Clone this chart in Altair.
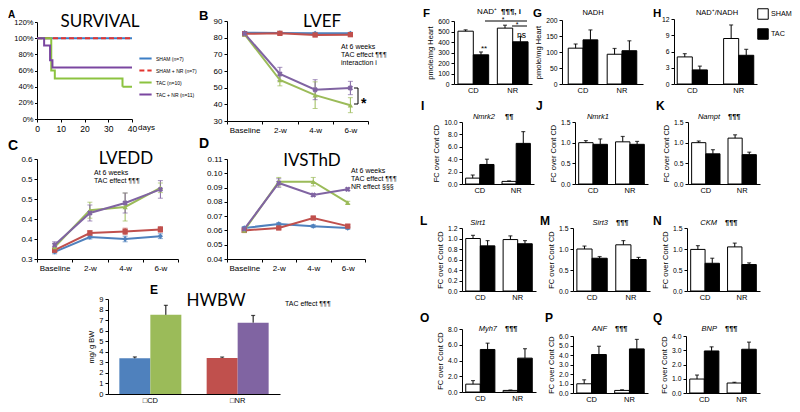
import altair as alt
import pandas as pd

W, H = 784, 396
OX, OY = 8, 8


def px(v):
    return v - OX


def py(v):
    return v - OY


SANS = "Liberation Sans"
HEAD = "Lato"

# ---------------- data ----------------
# A  survival
surv_series = ["SHAM (n=7)", "SHAM + NR  (n=7)", "TAC (n=10)", "TAC + NR (n=11)"]
surv_sham_days = [0, 40]
surv_sham_pct = [100, 100]
surv_shamnr_days = [0, 40]
surv_shamnr_pct = [100, 100]
surv_tac_days = [0, 6, 7.5, 36, 40]
surv_tac_pct = [100, 60, 50, 40, 40]
surv_tacnr_days = [0, 3, 5.5, 6.5, 40]
surv_tacnr_pct = [100, 90.9, 72.7, 63.6, 63.6]

# B, C, D echo time courses (SHAM, SHAM+NR, TAC, TAC+NR)
times = ["Baseline", "2-w", "4-w", "6-w"]
groups = ["SHAM", "SHAM + NR", "TAC", "TAC + NR"]
lvef_sham = [83.0, 82.8, 82.6, 82.6]
lvef_shamnr = [82.3, 82.6, 81.6, 81.8]
lvef_tac = [82.0, 54.6, 45.5, 39.5]
lvef_tacnr = [82.4, 58.2, 48.8, 49.8]
lvef_err = [[0.6, 0.6, 0.6, 0.6], [0.8, 0.8, 0.8, 0.8], [1.0, 3.5, 8.0, 4.5], [1.0, 4.0, 6.0, 4.0]]

lvedd_sham = [0.318, 0.355, 0.350, 0.357]
lvedd_shamnr = [0.322, 0.365, 0.369, 0.374]
lvedd_tac = [0.330, 0.422, 0.430, 0.478]
lvedd_tacnr = [0.335, 0.415, 0.440, 0.474]
lvedd_err = [[0.005, 0.005, 0.007, 0.006], [0.005, 0.006, 0.008, 0.007],
             [0.008, 0.020, 0.035, 0.012], [0.008, 0.020, 0.025, 0.022]]

ivs_sham = [0.0617, 0.0645, 0.0630, 0.0617]
ivs_shamnr = [0.0600, 0.0617, 0.0687, 0.0630]
ivs_tac = [0.0600, 0.0941, 0.0941, 0.0794]
ivs_tacnr = [0.0610, 0.0932, 0.0848, 0.0888]
ivs_err = [[0.001, 0.001, 0.001, 0.001], [0.001, 0.001, 0.001, 0.001],
           [0.001, 0.003, 0.003, 0.001], [0.001, 0.003, 0.001, 0.001]]

# E  HWBW
hw_groups = ["□CD", "□NR"]
hw_sham = [3.38, 3.42]
hw_sham_err = [0.13, 0.08]
hw_tac = [7.50, 6.76]
hw_tac_err = [0.90, 0.68]

# F-Q  (values for CD, NR)
nad_sham, nad_sham_err, nad_tac, nad_tac_err = [503, 532], [13, 28], [278, 402], [27, 50]
nadh_sham, nadh_sham_err, nadh_tac, nadh_tac_err = [112, 93], [13, 18], [138, 104], [31, 31]
ratio_sham, ratio_sham_err, ratio_tac, ratio_tac_err = [5.0, 8.4], [0.6, 2.5], [2.6, 5.3], [0.7, 1.1]
nmrk2_sham, nmrk2_sham_err, nmrk2_tac, nmrk2_tac_err = [0.95, 0.42], [0.5, 0.08], [3.15, 6.55], [0.85, 1.9]
nmrk1_sham, nmrk1_sham_err, nmrk1_tac, nmrk1_tac_err = [1.0, 1.02], [0.05, 0.13], [0.96, 0.96], [0.13, 0.07]
nampt_sham, nampt_sham_err, nampt_tac, nampt_tac_err = [1.0, 1.11], [0.04, 0.08], [0.73, 0.71], [0.1, 0.06]
sirt1_sham, sirt1_sham_err, sirt1_tac, sirt1_tac_err = [1.0, 0.98], [0.06, 0.07], [0.86, 0.9], [0.1, 0.06]
sirt3_sham, sirt3_sham_err, sirt3_tac, sirt3_tac_err = [1.0, 1.1], [0.07, 0.1], [0.78, 0.75], [0.04, 0.05]
ckm_sham, ckm_sham_err, ckm_tac, ckm_tac_err = [0.99, 1.05], [0.09, 0.09], [0.66, 0.63], [0.12, 0.04]
myh7_sham, myh7_sham_err, myh7_tac, myh7_tac_err = [1.0, 0.2], [0.45, 0.05], [5.4, 4.3], [0.8, 1.2]
anf_sham, anf_sham_err, anf_tac, anf_tac_err = [0.97, 0.27], [0.42, 0.07], [4.05, 4.64], [0.87, 1.0]
bnp_sham, bnp_sham_err, bnp_tac, bnp_tac_err = [0.98, 0.7], [0.28, 0.05], [2.95, 3.07], [0.29, 0.5]

# ---------------- styles ----------------
S_COLORS = ["#3c7fc6", "#e3342f", "#8cc340", "#7a46a0"]
L_COLORS = ["#4f81bd", "#c0504d", "#9bbb59", "#8064a2"]
HW_COLORS = ["#4f81bd", "#9bbb59", "#c0504d", "#8064a2"]


def yax(xl, values, fmt=None, expr=None, title=None, size=8, tsize=7.5, tick=3, pad=2):
    kw = dict(orient="left", offset=-px(xl), values=values, grid=False, labelFontSize=size,
              tickSize=tick, labelPadding=pad, titleFontSize=tsize, titlePadding=3, title=title)
    if fmt:
        kw["format"] = fmt
    if expr:
        kw["labelExpr"] = expr
    return alt.Axis(**kw)


def xax(yb, size=8, ticks=False, band=False, values=None):
    kw = dict(orient="bottom", offset=py(yb) - H, title=None, grid=False, labelFontSize=size,
              labelAngle=0, ticks=ticks, labelPadding=2, tickSize=3)
    if band:
        kw["tickBand"] = "extent"
    if values is not None:
        kw["values"] = values
    return alt.Axis(**kw)


def T(s, x, y, size=8, weight="normal", font=SANS, align="left", style="normal"):
    return alt.Chart(pd.DataFrame({"t": [s]})).mark_text(
        align=align, baseline="alphabetic", fontSize=size, fontWeight=weight,
        font=font, fontStyle=style, color="black"
    ).encode(x=alt.value(px(x)), y=alt.value(py(y)), text="t:N")


def R(x1, y1, x2, y2, width=1):
    return alt.Chart(pd.DataFrame({"a": [0]})).mark_rule(color="black", strokeWidth=width).encode(
        x=alt.value(px(x1)), x2=alt.value(px(x2)), y=alt.value(py(y1)), y2=alt.value(py(y2)))


def gene_title(gene, marks, xr, y, gap=8):
    return [T(gene, xr, y, 7.5, style="italic", align="right"), T(marks, xr + gap, y, 7.5, weight="bold")]


# ---------------- panels ----------------
def survival_panel():
    rows = []
    for s, d, p in zip(surv_series,
                       [surv_sham_days, surv_shamnr_days, surv_tac_days, surv_tacnr_days],
                       [surv_sham_pct, surv_shamnr_pct, surv_tac_pct, surv_tacnr_pct]):
        for dd, pp in zip(d, p):
            rows.append({"s": s, "day": dd, "pct": pp})
    df = pd.DataFrame(rows)
    xs = alt.Scale(domain=[0, 40], range=[px(37), px(132)], nice=False)
    ys = alt.Scale(domain=[0, 120], range=[py(119), py(22)], nice=False)
    xA = xax(119, size=8.5, ticks=True, values=[0, 10, 20, 30, 40])
    yA = yax(37, [0, 20, 40, 60, 80, 100, 120], expr="datum.value + '%'", size=7.5, tick=2.5, pad=1.5)
    leg = alt.Legend(title=None, orient="none", legendX=px(138), legendY=py(51), symbolType="stroke",
                     symbolSize=150, symbolStrokeWidth=2, labelFontSize=5, labelFont=SANS,
                     rowPadding=0, labelOffset=3)
    col = alt.Color("s:N", scale=alt.Scale(domain=surv_series, range=S_COLORS), legend=leg)
    dash = alt.StrokeDash("s:N", scale=alt.Scale(domain=surv_series,
                                                 range=[[1, 0], [5, 3], [1, 0], [1, 0]]), legend=leg)
    base = alt.Chart(df)
    enc = dict(x=alt.X("day:Q", scale=xs, axis=xA), y=alt.Y("pct:Q", scale=ys, axis=yA),
               color=col, strokeDash=dash, order="day:Q")
    l1 = base.transform_filter(alt.datum.s == surv_series[0]).mark_line(
        interpolate="step-after", strokeWidth=2).encode(**enc)
    l2 = base.transform_filter(alt.datum.s != surv_series[0]).mark_line(
        interpolate="step-after", strokeWidth=2).encode(**enc)
    return alt.layer(l1, l2)


def line_panel(means, errs, x0, x1, y0, y1, dom, yvals, fmt=None, expr=None):
    rows = []
    for g, mv, ev in zip(groups, means, errs):
        for i, (t, m, e) in enumerate(zip(times, mv, ev)):
            rows.append({"time": t, "idx": i, "grp": g, "m": m, "lo": m - e, "hi": m + e})
    df = pd.DataFrame(rows)
    xs = alt.Scale(type="band", domain=times, range=[px(x0), px(x1)], paddingInner=0, paddingOuter=0)
    ys = alt.Scale(domain=dom, range=[py(y0), py(y1)], nice=False, zero=False)
    xA = xax(y0, ticks=True, band=True)
    yA = yax(x0, yvals, fmt=fmt, expr=expr)
    col = alt.Color("grp:N", scale=alt.Scale(domain=groups, range=L_COLORS), legend=None)
    base = alt.Chart(df)

    def X():
        return alt.X("time:N", scale=xs, axis=xA)

    def Y(f):
        return alt.Y(f, scale=ys, axis=yA)

    bar = base.mark_rule(strokeWidth=1).encode(x=X(), y=Y("lo:Q"), y2="hi:Q", color=col)
    cap_lo = base.mark_tick(thickness=1, size=5).encode(x=X(), y=Y("lo:Q"), color=col)
    cap_hi = base.mark_tick(thickness=1, size=5).encode(x=X(), y=Y("hi:Q"), color=col)
    line = base.mark_line(strokeWidth=2).encode(x=X(), y=Y("m:Q"), color=col, order="idx:Q")
    pts = base.transform_filter(alt.datum.grp != "TAC + NR").mark_point(
        filled=True, size=28, opacity=1).encode(
        x=X(), y=Y("m:Q"), color=col,
        shape=alt.Shape("grp:N", scale=alt.Scale(domain=groups[:3],
                                                 range=["diamond", "square", "triangle-up"]), legend=None))
    crs = base.transform_filter(alt.datum.grp == "TAC + NR").mark_point(
        shape="cross", angle=45, filled=True, size=30, opacity=1).encode(x=X(), y=Y("m:Q"), color=col)
    return alt.layer(bar, cap_lo, cap_hi, line, pts, crs)


def grouped_bars(df, xs, ys, xA, yA, fill, stroke):
    xo = alt.XOffset("cond:N", scale=alt.Scale(domain=["SHAM", "TAC"], paddingInner=0, paddingOuter=0))
    base = alt.Chart(df)
    if stroke:
        bar_mark = base.mark_bar(stroke="black", strokeWidth=1)
    else:
        bar_mark = base.mark_bar()
    bars = bar_mark.encode(
        x=alt.X("diet:N", scale=xs, axis=xA), xOffset=xo,
        y=alt.Y("value:Q", scale=ys, axis=yA), fill=fill)
    stem = base.mark_rule(color="black", strokeWidth=1).encode(
        x=alt.X("diet:N", scale=xs, axis=xA), xOffset=xo,
        y=alt.Y("value:Q", scale=ys, axis=yA), y2="hi:Q")
    cap = base.mark_tick(color="black", thickness=1.2, size=4).encode(
        x=alt.X("diet:N", scale=xs, axis=xA), xOffset=xo, y=alt.Y("hi:Q", scale=ys, axis=yA))
    return alt.layer(bars, stem, cap)


def hwbw_panel():
    df = pd.DataFrame({
        "diet": [hw_groups[0], hw_groups[0], hw_groups[1], hw_groups[1]],
        "cond": ["SHAM", "TAC", "SHAM", "TAC"],
        "key": ["a", "b", "c", "d"],
        "value": [hw_sham[0], hw_tac[0], hw_sham[1], hw_tac[1]],
        "err": [hw_sham_err[0], hw_tac_err[0], hw_sham_err[1], hw_tac_err[1]],
    })
    df["hi"] = df["value"] + df["err"]
    y0, y1 = 394, 299
    xs = alt.Scale(type="band", domain=hw_groups, range=[px(108), px(280)], paddingInner=0.29, paddingOuter=0.13)
    ys = alt.Scale(domain=[0, 9], range=[py(y0), py(y1)], nice=False)
    xA = xax(y0, size=7.5)
    yA = yax(108, list(range(10)), fmt="d", title="mg/ g BW", size=7.5)
    fill = alt.Fill("key:N", scale=alt.Scale(domain=["a", "b", "c", "d"], range=HW_COLORS), legend=None)
    return grouped_bars(df, xs, ys, xA, yA, fill, stroke=False)


def bar_panel(sham, sham_err, tac, tac_err, x0, x1, y0, y1, ymax, yvals, fmt, ytitle=None,
              legend=None, pi=0.22, po=0.1, ysize=6.8):
    df = pd.DataFrame({
        "diet": ["CD", "CD", "NR", "NR"],
        "cond": ["SHAM", "TAC", "SHAM", "TAC"],
        "value": [sham[0], tac[0], sham[1], tac[1]],
        "err": [sham_err[0], tac_err[0], sham_err[1], tac_err[1]],
    })
    df["hi"] = df["value"] + df["err"]
    xs = alt.Scale(type="band", domain=["CD", "NR"], range=[px(x0), px(x1)], paddingInner=pi, paddingOuter=po)
    ys = alt.Scale(domain=[0, ymax], range=[py(y0), py(y1)], nice=False)
    xA = xax(y0, size=7.5)
    yA = yax(x0, yvals, fmt=fmt, title=ytitle, size=ysize)
    fill = alt.Fill("cond:N", scale=alt.Scale(domain=["SHAM", "TAC"], range=["white", "black"]), legend=legend)
    return grouped_bars(df, xs, ys, xA, yA, fill, stroke=True)


FC = "FC over Cont CD"
PM = "pmole/mg Heart"
legend_sham_tac = alt.Legend(title=None, orient="none", legendX=px(757), legendY=py(8), symbolType="square",
                             symbolSize=110, symbolStrokeColor="black", symbolStrokeWidth=1,
                             labelFontSize=7.2, labelFont=SANS, rowPadding=4, labelOffset=2)

panels = [
    survival_panel(),
    line_panel([lvef_sham, lvef_shamnr, lvef_tac, lvef_tacnr], lvef_err, 227, 368, 121, 21, [30, 90],
               [30, 40, 50, 60, 70, 80, 90], fmt="d"),
    line_panel([lvedd_sham, lvedd_shamnr, lvedd_tac, lvedd_tacnr], lvedd_err, 37, 178, 259, 159, [0.3, 0.55],
               [0.3, 0.35, 0.4, 0.45, 0.5, 0.55], expr="format(datum.value + 0.001, '.1f')"),
    line_panel([ivs_sham, ivs_shamnr, ivs_tac, ivs_tacnr], ivs_err, 227, 365, 259, 159, [0.04, 0.11],
               [0.04, 0.05, 0.06, 0.07, 0.08, 0.09, 0.10, 0.11], fmt=".2f"),
    hwbw_panel(),
    bar_panel(nad_sham, nad_sham_err, nad_tac, nad_tac_err, 454, 532, 84, 21, 600,
              [0, 100, 200, 300, 400, 500, 600], "d", PM, legend=legend_sham_tac),
    bar_panel(nadh_sham, nadh_sham_err, nadh_tac, nadh_tac_err, 562, 643, 84, 20, 200,
              [0, 50, 100, 150, 200], "d", PM, pi=0.24, po=0.16),
    bar_panel(ratio_sham, ratio_sham_err, ratio_tac, ratio_tac_err, 674, 757, 84, 19, 12,
              [0, 3, 6, 9, 12], "d", None, pi=0.35, po=0.07),
    bar_panel(nmrk2_sham, nmrk2_sham_err, nmrk2_tac, nmrk2_tac_err, 462, 534, 184, 122, 10,
              [0, 2, 4, 6, 8, 10], ".1f", FC),
    bar_panel(nmrk1_sham, nmrk1_sham_err, nmrk1_tac, nmrk1_tac_err, 575, 648, 184, 122, 1.5,
              [0, 0.5, 1.0, 1.5], ".1f", FC),
    bar_panel(nampt_sham, nampt_sham_err, nampt_tac, nampt_tac_err, 688, 760, 184, 122, 1.5,
              [0, 0.5, 1.0, 1.5], ".1f", FC),
    bar_panel(sirt1_sham, sirt1_sham_err, sirt1_tac, sirt1_tac_err, 462, 536, 291, 228, 1.2,
              [0, 0.2, 0.4, 0.6, 0.8, 1.0, 1.2], ".1f", FC),
    bar_panel(sirt3_sham, sirt3_sham_err, sirt3_tac, sirt3_tac_err, 573, 650, 291, 228, 1.5,
              [0, 0.5, 1.0, 1.5], ".1f", FC),
    bar_panel(ckm_sham, ckm_sham_err, ckm_tac, ckm_tac_err, 687, 760, 291, 228, 1.5,
              [0, 0.5, 1.0, 1.5], ".1f", FC),
    bar_panel(myh7_sham, myh7_sham_err, myh7_tac, myh7_tac_err, 462, 536, 392, 329, 8,
              [0, 2, 4, 6, 8], ".1f", FC),
    bar_panel(anf_sham, anf_sham_err, anf_tac, anf_tac_err, 573, 648, 393, 336, 6,
              [0, 1, 2, 3, 4, 5, 6], ".1f", FC),
    bar_panel(bnp_sham, bnp_sham_err, bnp_tac, bnp_tac_err, 686, 760, 393, 336, 4,
              [0, 1, 2, 3, 4], ".1f", FC),
]

texts = [
    T("A", 8, 17.5, 10, "bold"),
    T("SURVIVAL", 100, 27, 17, font=HEAD, align="center"),
    T("days", 138, 130, 8),
    T("B", 199, 20, 13, "bold"),
    T("LVEF", 322, 27, 17, font=HEAD, align="center"),
    T("At 6 weeks", 341, 49, 7), T("TAC effect ¶¶¶", 341, 57, 7), T("interaction  i", 341, 65, 7),
    R(358, 88, 358, 104), R(354, 88, 358, 88), R(354, 104, 358, 104),
    T("*", 361, 108, 14, "bold"),
    T("C", 8, 150, 14, "bold"),
    T("LVEDD", 126, 164, 17, font=HEAD, align="center"),
    T("At 6 weeks", 94, 175, 7), T("TAC effect ¶¶¶", 94, 183, 7),
    T("D", 199, 148, 14, "bold"),
    T("IVSThD", 312, 166, 17, font=HEAD, align="center"),
    T("At 6 weeks", 351, 173, 7), T("TAC effect ¶¶¶", 351, 181, 7), T("NR effect §§§", 351, 189, 7),
    T("E", 150, 294, 12, "bold"),
    T("HWBW", 216, 306, 17, font=HEAD, align="center"),
    T("TAC effect ¶¶¶", 285, 306, 7),
    # right block
    T("F", 423, 17, 11.5, "bold"),
    T("NAD⁺", 497, 14, 8, align="right"), T("¶¶¶, i", 501, 14, 8, "bold"),
    R(485, 21, 527, 21), T("*", 503, 22, 7, align="center"),
    R(512, 26, 527, 26), T("*", 517, 27, 7, align="center"),
    T("**", 484, 51, 8, align="center"), T("ns", 517, 38, 8.5),
    T("G", 533, 17, 11.5, "bold"), T("NADH", 593, 15, 7.5, align="center"),
    T("H", 653, 16.5, 11.5, "bold"), T("NAD⁺/NADH", 717, 15, 7.5, align="center"),
    T("I", 421, 110, 12, "bold"), T("J", 536, 110, 12, "bold"), T("K", 656, 110, 12, "bold"),
    T("L", 420, 225, 12, "bold"), T("M", 540, 225, 12, "bold"), T("N", 653, 225, 12, "bold"),
    T("O", 420, 322, 12, "bold"), T("P", 545, 322, 12, "bold"), T("Q", 653, 322, 12, "bold"),
    T("Nmrk1", 598, 119, 7.5, style="italic", align="center"),
    T("Sirt1", 478, 225, 7.5, style="italic", align="center"),
]
texts += gene_title("Nmrk2", "¶¶", 495, 119, gap=10)
texts += gene_title("Nampt", "¶¶¶", 720, 119)
texts += gene_title("Sirt3", "¶¶¶", 608, 225)
texts += gene_title("CKM", "¶¶¶", 717, 225)
texts += gene_title("Myh7", "¶¶¶", 497, 331)
texts += gene_title("ANF", "¶¶¶", 607, 331)
texts += gene_title("BNP", "¶¶¶", 717, 331)

chart = alt.layer(*panels, *texts).resolve_scale(
    x="independent", y="independent", color="independent", fill="independent",
    shape="independent", strokeDash="independent", xOffset="independent"
).resolve_axis(x="independent", y="independent").resolve_legend(
    color="independent", fill="independent", shape="independent", strokeDash="independent"
).properties(
    width=W, height=H, autosize=alt.AutoSizeParams(type="none"), padding=0
).configure_view(stroke=None).configure_axis(
    labelFont=SANS, titleFont=SANS, labelColor="black", titleColor="black", domainColor="black",
    tickColor="black", titleFontWeight="normal", labelFlush=False, labelOverlap=False, domainWidth=1
)

chart.save("out.html", embed_options={"renderer": "svg", "actions": False})
